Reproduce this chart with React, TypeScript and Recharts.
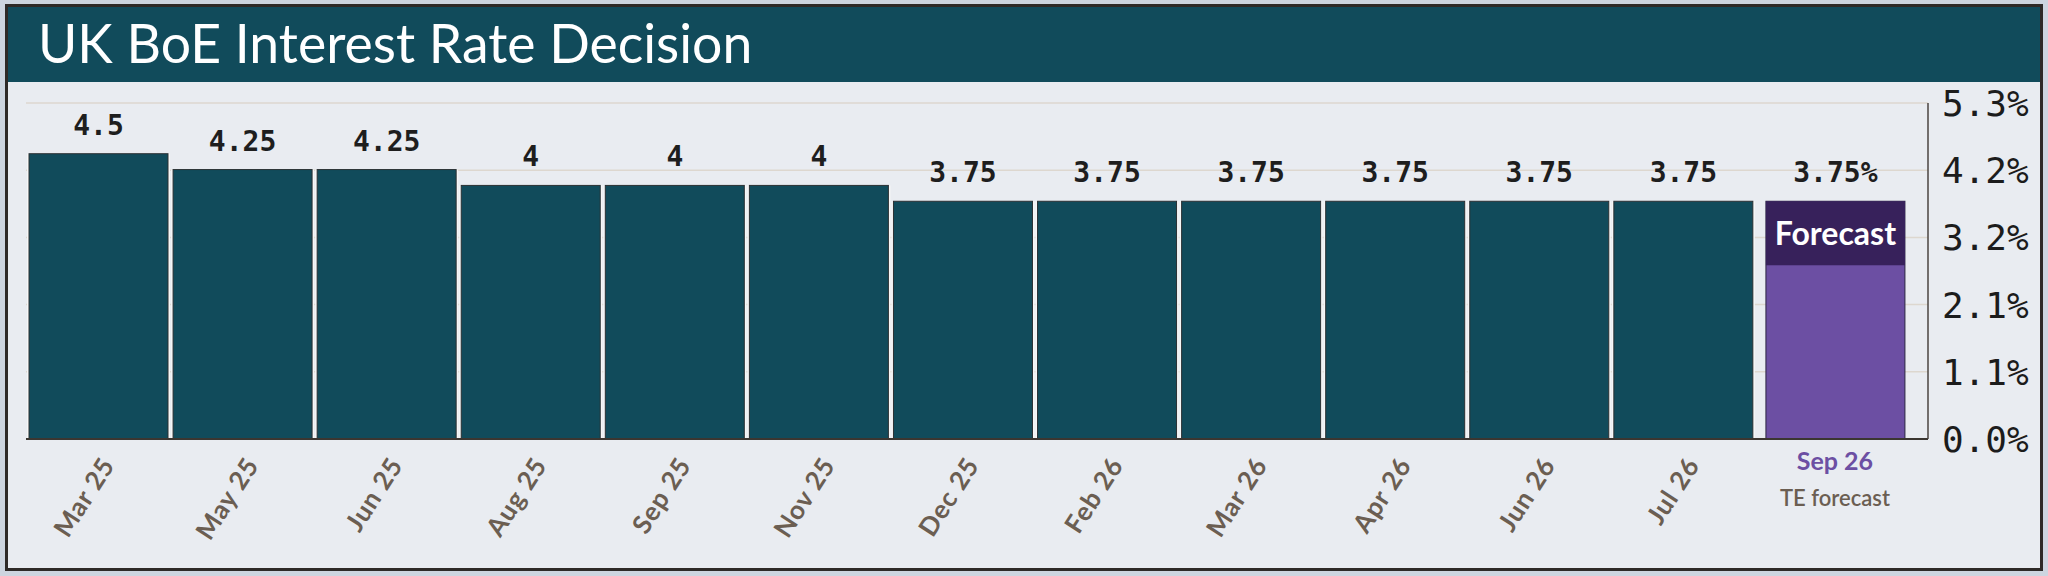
import React from "react";
import { BarChart, Bar, XAxis, YAxis, CartesianGrid, LabelList } from "recharts";

const categories = ["Mar 25", "May 25", "Jun 25", "Aug 25", "Sep 25", "Nov 25", "Dec 25", "Feb 26", "Mar 26", "Apr 26", "Jun 26", "Jul 26", "Sep 26"];
const rates = [4.5, 4.25, 4.25, 4, 4, 4, 3.75, 3.75, 3.75, 3.75, 3.75, 3.75, 3.75];
const forecastFlags = [false, false, false, false, false, false, false, false, false, false, false, false, true];
const yTicks = [0, 1.06, 2.12, 3.18, 4.24, 5.3];
const yTickLabels = ["0.0%", "1.1%", "2.1%", "3.2%", "4.2%", "5.3%"];
const forecastNote = "TE forecast";
const forecastBadge = "Forecast";
const title = "UK BoE Interest Rate Decision";

const data = categories.map((c, i) => ({
  category: c,
  rate: rates[i],
  forecast: forecastFlags[i],
  valueLabel: String(rates[i]) + (forecastFlags[i] ? "%" : ""),
}));

const TEAL = "#114b5b";
const BG = "#e9ecf1";
const PURPLE = "#6c4fa3";
const DARK_PURPLE = "#37215b";
const LABEL_BROWN = "#6b5e52";
const SANS = "Lato, 'Noto Sans', sans-serif";
const MONO = "'DejaVu Sans Mono', monospace";
const FORECAST_SHIFT = 8;

const BarShape = (props: any) => {
  const { x, y, width, height, payload } = props;
  if (payload && payload.forecast) {
    const bx = x + FORECAST_SHIFT;
    const band = 64;
    return (
      <g>
        <rect x={bx} y={y} width={width} height={height} fill={PURPLE} stroke="#2b2540" strokeWidth={1} />
        <rect x={bx} y={y} width={width} height={band} fill={DARK_PURPLE} />
        <text x={bx + width / 2} y={y + band / 2 + 12} textAnchor="middle" fill="#ffffff" fontFamily={SANS} fontWeight={700} fontSize={32}>
          {forecastBadge}
        </text>
      </g>
    );
  }
  return (
    <g>
      <rect x={x - 2} y={y} width={width + 4} height={height} fill="#f6f6f6" />
      <rect x={x} y={y} width={width} height={height} fill={TEAL} stroke="#2a3033" strokeWidth={1} />
    </g>
  );
};

const ValueLabel = (props: any) => {
  const { x, y, width, value } = props;
  const isF = typeof value === "string" && value.endsWith("%");
  const cx = x + width / 2 + (isF ? FORECAST_SHIFT : 0);
  return (
    <text x={cx} y={y - 19} textAnchor="middle" fill="#1e1e1e" fontFamily={MONO} fontWeight={700} fontSize={28}>
      {value}
    </text>
  );
};

const XTick = (props: any) => {
  const { x, y, payload } = props;
  const idx = categories.indexOf(payload.value);
  if (idx >= 0 && forecastFlags[idx]) {
    const cx = x + FORECAST_SHIFT;
    return (
      <g>
        <text x={cx} y={y + 31} textAnchor="middle" fill={PURPLE} fontFamily={SANS} fontWeight={700} fontSize={25}>
          {payload.value}
        </text>
        <text x={cx} y={y + 67} textAnchor="middle" fill={LABEL_BROWN} fontFamily={SANS} fontWeight={600} fontSize={22}>
          {forecastNote}
        </text>
      </g>
    );
  }
  return (
    <g transform={`translate(${x + 2},${y + 16})`}>
      <text textAnchor="end" dy="0.72em" transform="rotate(-57)" fill={LABEL_BROWN} fontFamily={SANS} fontWeight={700} fontSize={26} letterSpacing={0.8}>
        {payload.value}
      </text>
    </g>
  );
};

const YTick = (props: any) => {
  const { x, y, payload, index } = props;
  const i = yTicks.indexOf(payload.value);
  const label = i >= 0 ? yTickLabels[i] : yTickLabels[index];
  return (
    <text x={x} y={y} dy="0.36em" textAnchor="start" fill="#1c1c1c" fontFamily={MONO} fontSize={36}>
      {label}
    </text>
  );
};

export default function App() {
  return (
    <div style={{ position: "absolute", left: 0, top: 0, width: 2048, height: 576 }}>
      <svg width={2048} height={576} style={{ position: "absolute", left: 0, top: 0 }}>
        <rect x={0} y={0} width={2048} height={576} fill="#cdd5df" />
        <rect x={6.5} y={5.5} width={2035} height={564} fill={BG} stroke="#2e2a27" strokeWidth={3} />
        <rect x={8} y={7} width={2032} height={75} fill={TEAL} />
        <text x={38} y={63} fill="#ffffff" fontFamily={SANS} fontSize={53.5}>
          {title}
        </text>
      </svg>
      <div style={{ position: "absolute", left: 0, top: 0 }}>
        <BarChart
          width={2048}
          height={576}
          data={data}
          margin={{ top: 103, right: 10, bottom: 37, left: 26 }}
          barCategoryGap={0}
        >
          <CartesianGrid vertical={false} stroke="#ddd7cf" strokeWidth={1.5} />
          <XAxis
            dataKey="category"
            height={100}
            interval={0}
            padding={{ left: 0, right: 29 }}
            axisLine={{ stroke: "#3b3631", strokeWidth: 2 }}
            tickLine={false}
            tickSize={0}
            tickMargin={0}
            tick={<XTick />}
          />
          <YAxis
            orientation="right"
            width={110}
            domain={[0, 5.3]}
            ticks={yTicks}
            interval={0}
            axisLine={{ stroke: "#4a4540", strokeWidth: 1.5 }}
            tickLine={false}
            tickSize={0}
            tickMargin={14}
            tick={<YTick />}
          />
          <Bar dataKey="rate" barSize={139} shape={<BarShape />} isAnimationActive={false}>
            <LabelList dataKey="valueLabel" content={<ValueLabel />} />
          </Bar>
        </BarChart>
      </div>
    </div>
  );
}
